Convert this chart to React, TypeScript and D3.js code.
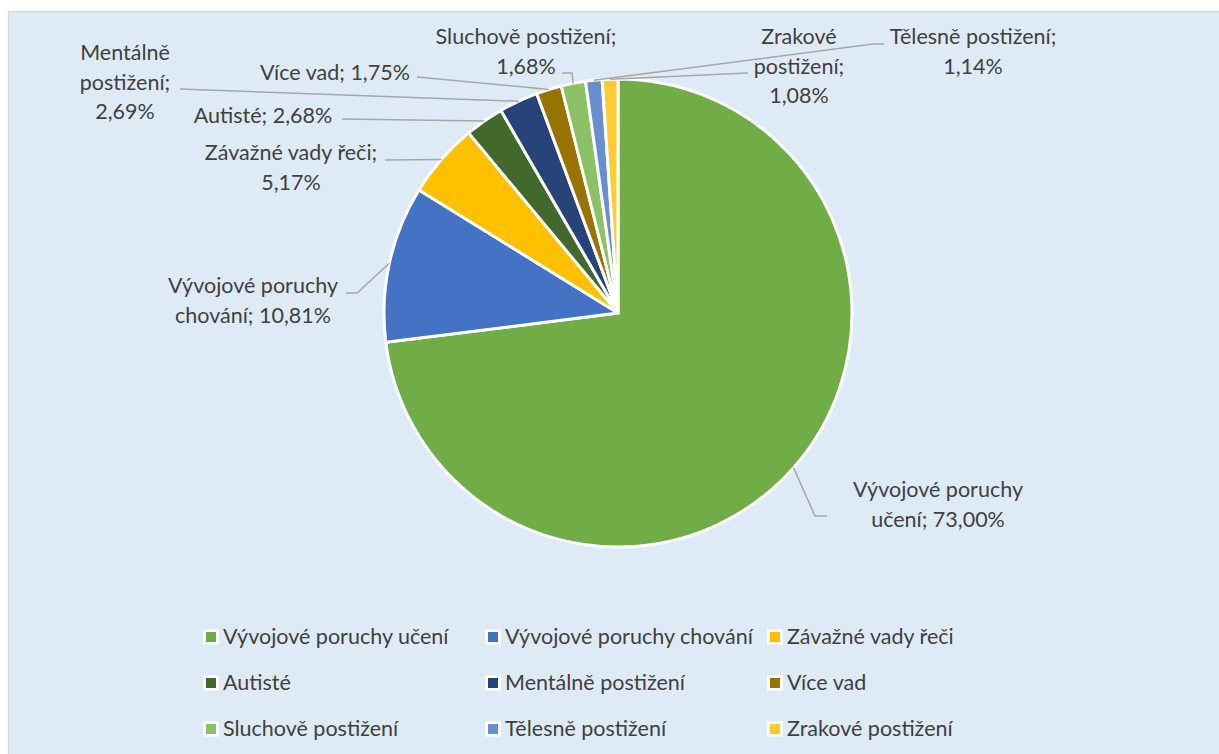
import React from "react";
import * as d3 from "d3";

// data
const categories = [
  "Vývojové poruchy učení",
  "Vývojové poruchy chování",
  "Závažné vady řeči",
  "Autisté",
  "Mentálně postižení",
  "Více vad",
  "Sluchově postižení",
  "Tělesně postižení",
  "Zrakové postižení",
];
const shares = [73.0, 10.81, 5.17, 2.68, 2.69, 1.75, 1.68, 1.14, 1.08];
const colors = [
  "#70AD47",
  "#4472C4",
  "#FFC000",
  "#43682B",
  "#264478",
  "#997300",
  "#8CC168",
  "#698ED0",
  "#FFCD33",
];

// data-label layout: text lines, anchor (center) x, first baseline y, and leader-line start
const labelLayout = [
  { lines: ["Vývojové poruchy", "učení; 73,00%"], x: 938, y: 497, lead: [[827, 516], [815, 516]] },
  { lines: ["Vývojové poruchy", "chování; 10,81%"], x: 253, y: 293, lead: [[346, 293], [357, 293]] },
  { lines: ["Závažné vady řeči;", "5,17%"], x: 291, y: 160, lead: [[385, 160]] },
  { lines: ["Autisté; 2,68%"], x: 263, y: 123, lead: [[342, 119]] },
  { lines: ["Mentálně", "postižení;", "2,69%"], x: 125, y: 60, lead: [[180, 89]] },
  { lines: ["Více vad; 1,75%"], x: 335, y: 80, lead: [[417, 77]] },
  { lines: ["Sluchově postižení;", "1,68%"], x: 526, y: 44, lead: [[562, 73], [572, 73]] },
  { lines: ["Tělesně postižení;", "1,14%"], x: 973, y: 44, lead: [[884, 44], [873, 44]] },
  { lines: ["Zrakové", "postižení;", "1,08%"], x: 799, y: 44, lead: [[748, 73]] },
];

const W = 1219;
const H = 754;
const cx = 618;
const cy = 313;
const R = 234;
const font = "Lato, 'Open Sans', sans-serif";
const fontSize = 21.5;
const textColor = "#404040";

export default function App() {
  const pie = d3.pie<number>().sort(null).value((d) => d);
  const arcs = pie(shares);
  const arc = d3.arc<d3.PieArcDatum<number>>().innerRadius(0).outerRadius(R);
  const edge = d3.arc<d3.PieArcDatum<number>>().innerRadius(R).outerRadius(R);
  const line = d3.line();

  const legendCols = d3.scaleOrdinal<number, number>().domain([0, 1, 2]).range([211, 493, 775]);
  const legendRows = d3.scalePoint<number>().domain([0, 1, 2]).range([637, 729]);

  return (
    <svg
      width={W}
      height={H}
      style={{ position: "absolute", left: 0, top: 0, display: "block" }}
      fontFamily={font}
    >
      <rect x={0} y={0} width={W} height={H} fill="#ffffff" />
      <rect x={8.5} y={11.5} width={W} height={H} fill="#DEEBF7" stroke="#D9D9D9" strokeWidth={1.5} />
      <g transform={`translate(${cx},${cy})`}>
        {arcs.map((a, i) => (
          <path key={i} d={arc(a) || ""} fill={colors[i]} stroke="#ffffff" strokeWidth={3} strokeLinejoin="round" />
        ))}
      </g>
      {arcs.map((a, i) => {
        const [ex, ey] = edge.centroid(a);
        const L = labelLayout[i];
        const pts = [...L.lead, [cx + ex, cy + ey]] as [number, number][];
        return (
          <path key={"l" + i} d={line(pts) || ""} fill="none" stroke="#A6A6A6" strokeWidth={1.5} />
        );
      })}
      {labelLayout.map((L, i) => (
        <text key={"t" + i} x={L.x} y={L.y} textAnchor="middle" fontSize={fontSize} fill={textColor}>
          {L.lines.map((s, j) => (
            <tspan key={j} x={L.x} dy={j === 0 ? 0 : 29.5}>
              {s}
            </tspan>
          ))}
        </text>
      ))}
      {categories.map((c, i) => {
        const x = legendCols(i % 3);
        const y = legendRows(Math.floor(i / 3))!;
        return (
          <g key={"g" + i}>
            <rect x={x - 8} y={y - 7.5} width={16} height={15} fill="#ffffff" />
            <rect x={x - 5} y={y - 5} width={10} height={10} fill={colors[i]} />
            <text x={x + 12} y={y + 7} fontSize={fontSize} fill={textColor}>
              {c}
            </text>
          </g>
        );
      })}
    </svg>
  );
}
